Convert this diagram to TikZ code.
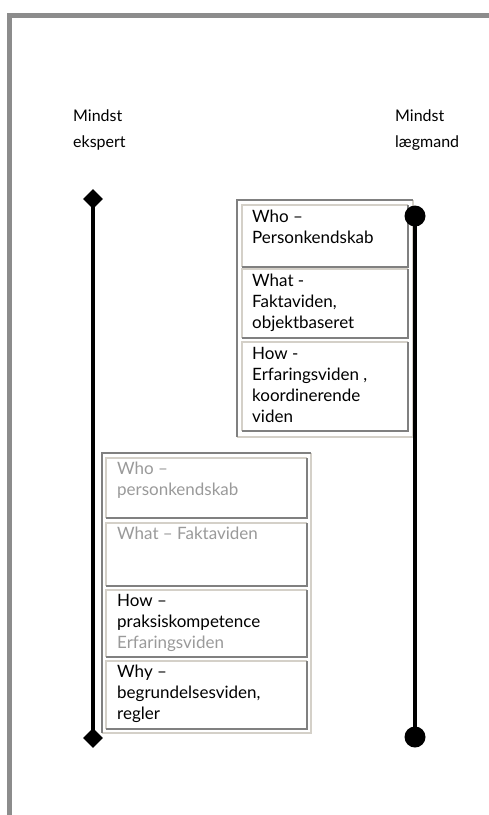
\documentclass[tikz,border=0pt]{standalone}
\usepackage{fontspec}
\setmainfont{Lato}
\usetikzlibrary{shapes.geometric}
\definecolor{framegray}{HTML}{8C8C8C}
\definecolor{bevlight}{HTML}{D4D0C8}
\definecolor{bevdark}{HTML}{808080}
\definecolor{fadedtext}{HTML}{9A9A9A}
\newcommand\fl{\rule{0pt}{12.5pt}}
\newcommand\bevelin[1]{%
  \draw[bevlt] (#1.south west) -- (#1.north west) -- (#1.north east);
  \draw[bevdk] (#1.north east) -- (#1.south east) -- (#1.south west);}
\newcommand\bevelout[1]{%
  \draw[bevlt] (#1.north east) -- (#1.south east) -- (#1.south west);
  \draw[bevdk] (#1.south west) -- (#1.north west) -- (#1.north east);}
\begin{document}
\begin{tikzpicture}[x=1pt,y=-1pt,
  txt/.style={font=\fontsize{17}{21}\selectfont, align=left, inner sep=0pt, anchor=north west},
  lbl/.style={font=\fontsize{16}{26}\selectfont, align=left, inner sep=0pt, anchor=north west},
  kb/.style={fill=white, inner sep=0pt, outer sep=0pt, anchor=north west},
  bevlt/.style={draw=bevlight, line width=2pt},
  bevdk/.style={draw=bevdark, line width=2pt},
  framel/.style={draw=framegray, line width=5pt},
  axis/.style={line width=4pt},
  dia/.style={diamond, fill=black, minimum width=20pt, minimum height=20pt, inner sep=0pt},
  dot/.style={circle, fill=black, minimum size=21pt, inner sep=0pt}]
\useasboundingbox (0,0) rectangle (489,815);
\fill[white] (0,0) rectangle (489,815);
% page frame
\coordinate (fb) at (9.5,815);
\coordinate (fc) at (9.5,15);
\coordinate (fr) at (489,15);
\draw[framel] (fb) -- (fc) -- (fr);
% labels
\node[lbl] (l1) at (73,110) {Mindst\\ekspert};
\node[lbl] (l2) at (395,110) {Mindst\\lægmand};
% upper group
\node[kb, minimum width=176pt, minimum height=237pt] (ug) at (237,200) {};
\bevelout{ug}
\node[kb, minimum width=166pt, minimum height=62pt] (u1) at (242,205) {};
\node[kb, minimum width=166pt, minimum height=69pt] (u2) at (242,269) {};
\node[kb, minimum width=166pt, minimum height=89pt] (u3) at (242,342) {};
\bevelin{u1}\bevelin{u2}\bevelin{u3}
\node[txt] (u1t) at (252,209.5) {\fl Who –\\Personkendskab};
\node[txt] (u2t) at (252,273.5) {\fl What -\\Faktaviden,\\objektbaseret};
\node[txt] (u3t) at (252,346.5) {\fl How -\\Erfaringsviden ,\\koordinerende\\viden};
% lower group
\node[kb, minimum width=209pt, minimum height=280pt] (lg) at (102,453) {};
\bevelout{lg}
\node[kb, minimum width=201pt, minimum height=60pt] (b1) at (106,458) {};
\node[kb, minimum width=201pt, minimum height=63pt] (b2) at (106,523) {};
\node[kb, minimum width=201pt, minimum height=67pt] (b3) at (106,590) {};
\node[kb, minimum width=201pt, minimum height=68pt] (b4) at (106,661) {};
\bevelin{b1}\bevelin{b2}\bevelin{b3}\bevelin{b4}
\node[txt, text=fadedtext] (b1t) at (117,461.5) {\fl Who –\\personkendskab};
\node[txt, text=fadedtext] (b2t) at (117,526.5) {\fl What – Faktaviden};
\node[txt] (b3t) at (117,593.5) {\fl How –\\praksiskompetence\\\textcolor{fadedtext}{Erfaringsviden}};
\node[txt] (b4t) at (117,664.5) {\fl Why –\\begrundelsesviden,\\regler};
% axes
\node[dia] (dt) at (93,199) {};
\node[dia] (db) at (93,738) {};
\draw[axis] (dt.center) -- (db.center);
\node[dot] (ct) at (415,216) {};
\node[dot] (cb) at (415,737) {};
\draw[axis] (ct.center) -- (cb.center);
\end{tikzpicture}
\end{document}
